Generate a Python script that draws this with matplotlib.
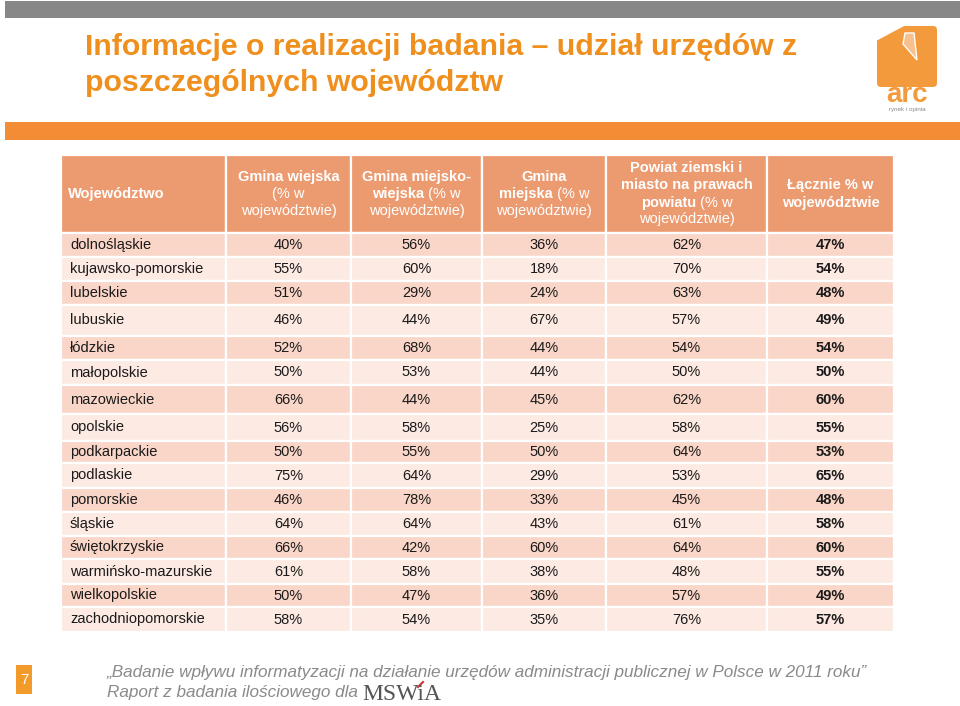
import matplotlib
matplotlib.use("Agg")
import matplotlib.pyplot as plt
from matplotlib.patches import Rectangle, Polygon, FancyBboxPatch

# dane tabeli
wojewodztwa = ['dolnośląskie', 'kujawsko-pomorskie', 'lubelskie', 'lubuskie', 'łódzkie',
               'małopolskie', 'mazowieckie', 'opolskie', 'podkarpackie', 'podlaskie',
               'pomorskie', 'śląskie', 'świętokrzyskie', 'warmińsko-mazurskie',
               'wielkopolskie', 'zachodniopomorskie']
gmina_wiejska = [40, 55, 51, 46, 52, 50, 66, 56, 50, 75, 46, 64, 66, 61, 50, 58]
gmina_miejsko_wiejska = [56, 60, 29, 44, 68, 53, 44, 58, 55, 64, 78, 64, 42, 58, 47, 54]
gmina_miejska = [36, 18, 24, 67, 44, 44, 45, 25, 50, 29, 33, 43, 60, 38, 36, 35]
powiat = [62, 70, 63, 57, 54, 50, 62, 58, 64, 53, 45, 61, 64, 48, 57, 76]
lacznie = [47, 54, 48, 49, 54, 50, 60, 55, 53, 65, 48, 58, 60, 55, 49, 57]

# naglowki: lista linii, kazda linia to lista (tekst, grubosc)
naglowki = [
    [[('Gmina wiejska', 'bold')], [('(% w', 'normal')], [('województwie)', 'normal')]],
    [[('Gmina miejsko-', 'bold')], [('wiejska', 'bold'), (' (% w', 'normal')], [('województwie)', 'normal')]],
    [[('Gmina', 'bold')], [('miejska', 'bold'), (' (% w', 'normal')], [('województwie)', 'normal')]],
    [[('Powiat ziemski i', 'bold')], [('miasto na prawach', 'bold')],
     [('powiatu', 'bold'), (' (% w', 'normal')], [('województwie)', 'normal')]],
    [[('Łącznie % w', 'bold')], [('województwie', 'bold')]],
]

# uklad (piksele)
col_x = [61, 226, 351, 482, 606, 767, 894]
head_top, head_bot = 155, 233
row_h = [24, 24, 24, 31, 24, 25, 29, 27, 22, 25, 24, 24, 23, 25, 23, 25]

c_head = '#EC9B71'
c_dark = '#F9D6C8'
c_light = '#FCEAE3'
c_orange = '#F28C35'
c_title = '#EF8F1E'
FS = 10.5
SANS = ['Liberation Sans', 'DejaVu Sans']

fig = plt.figure(figsize=(9.6, 7.06), dpi=100)
ax = fig.add_axes([0, 0, 1, 1])
ax.set_xlim(0, 960)
ax.set_ylim(706, 0)
ax.axis('off')
renderer = fig.canvas.get_renderer()

# pasek szary i pomaranczowy
ax.add_patch(Rectangle((5, 1), 955, 17, color='#878787', lw=0))
ax.add_patch(Rectangle((5, 122), 955, 18, color=c_orange, lw=0))

# tytul
ax.text(85, 47, 'Informacje o realizacji badania – udział urzędów z', fontsize=21.8,
        fontweight='bold', color=c_title, family=SANS, va='center')
ax.text(85, 83, 'poszczególnych województw', fontsize=21.8,
        fontweight='bold', color=c_title, family=SANS, va='center')

# logo arc
ax.add_patch(FancyBboxPatch((877, 26), 60, 61, boxstyle='round,pad=0,rounding_size=4',
                            color='#F39A3C', lw=0))
ax.add_patch(Polygon([(876, 25), (906, 25), (876, 41)], closed=True, color='white', lw=0))
ax.add_patch(Polygon([(905, 33), (914, 33), (917, 60), (903, 44)], closed=True,
                     facecolor='#F7C08C', edgecolor='white', lw=1))
ax.text(907, 95, 'arc', fontsize=20, color='#F39A3C', ha='center', va='center',
        family=SANS, fontweight='bold')
ax.text(907, 109, 'rynek i opinia', fontsize=4.5, color='#888888', ha='center',
        va='center', family=SANS)


def cell(x0, x1, y0, y1, color):
    ax.add_patch(Rectangle((x0, y0), x1 - x0, y1 - y0, facecolor=color,
                           edgecolor='white', lw=1.6))


def mixed_line(xc, y, parts):
    texts = []
    widths = []
    for s, w in parts:
        t = ax.text(0, y, s, fontsize=FS, fontweight=w, color='white',
                    family=SANS, ha='left', va='center')
        texts.append(t)
        widths.append(t.get_window_extent(renderer).width)
    x = xc - sum(widths) / 2
    for t, w in zip(texts, widths):
        t.set_x(x)
        x += w


# naglowek
for i in range(6):
    cell(col_x[i], col_x[i + 1], head_top, head_bot, c_head)
ax.text(68, (head_top + head_bot) / 2, 'Województwo', fontsize=FS, fontweight='bold',
        color='white', family=SANS, va='center')
for i, lines in enumerate(naglowki):
    xc = (col_x[i + 1] + col_x[i + 2]) / 2
    yc = (head_top + head_bot) / 2
    n = len(lines)
    for k, parts in enumerate(lines):
        mixed_line(xc, yc + (k - (n - 1) / 2) * 17, parts)

# wiersze
cols = [gmina_wiejska, gmina_miejsko_wiejska, gmina_miejska, powiat, lacznie]
y = head_bot
for r, name in enumerate(wojewodztwa):
    h = row_h[r]
    color = c_dark if r % 2 == 0 else c_light
    for i in range(6):
        cell(col_x[i], col_x[i + 1], y, y + h, color)
    yc = y + h / 2
    ax.text(70, yc, name, fontsize=FS, color='#1a1a1a', family=SANS, va='center')
    for i, vals in enumerate(cols):
        xc = (col_x[i + 1] + col_x[i + 2]) / 2
        ax.text(xc, yc, f'{vals[r]}%', fontsize=FS, color='#1a1a1a', family=SANS,
                ha='center', va='center', fontweight='bold' if i == 4 else 'normal')
    y += h

# stopka
ax.add_patch(Rectangle((16, 665), 16, 29, color='#F29A2A', lw=0))
ax.text(24, 680, '7', fontsize=11, color='white', ha='center', va='center', family=SANS)
ax.text(107, 672, '„Badanie wpływu informatyzacji na działanie urzędów administracji publicznej w Polsce w 2011 roku”',
        fontsize=12.3, style='italic', color='#8a8a8a', family=SANS, va='center')
ax.text(107, 692, 'Raport z badania ilościowego dla', fontsize=12.3, style='italic',
        color='#8a8a8a', family=SANS, va='center')
ax.text(362, 694, 'MSWiA', fontsize=17, color='#555555', family=['Liberation Serif', 'DejaVu Serif'],
        va='center')
ax.plot([418, 423], [687, 682], color='#d03030', lw=1.5)

fig.savefig('out.png', dpi=100)
